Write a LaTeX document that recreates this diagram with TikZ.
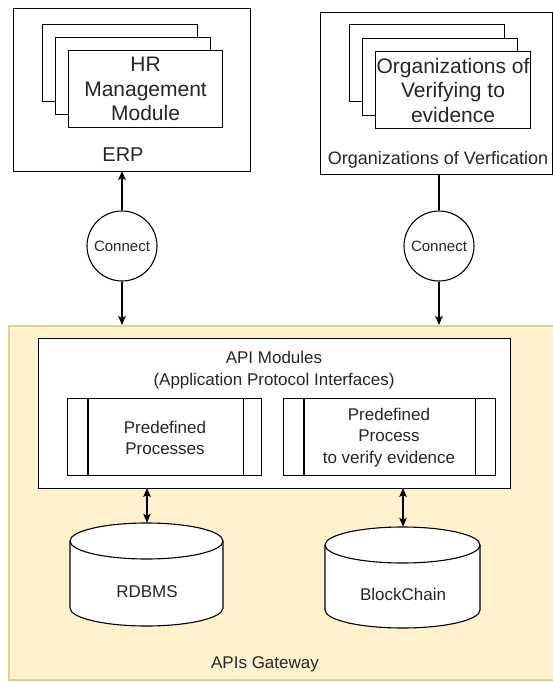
\documentclass[tikz,border=0pt]{standalone}
\usepackage{fontspec}
\setmainfont{Liberation Sans}
\usetikzlibrary{arrows.meta}
\definecolor{gwfill}{HTML}{FFF2CC}
\definecolor{gwdraw}{HTML}{E3CF96}
\tikzset{
  box/.style={draw=black, line width=1.1pt, fill=white, inner sep=0pt, anchor=north west},
  txt/.style={align=center, inner sep=0pt, text=black!85},
  big/.style={font=\fontsize{21}{24.5}\selectfont},
  mid/.style={font=\fontsize{17}{21.5}\selectfont},
  conn/.style={draw=black, line width=1.1pt},
  arr/.style={conn, -{Stealth[length=9pt,width=7.5pt,inset=2pt]}},
  darr/.style={conn, {Stealth[length=9pt,width=7.5pt,inset=2pt]}-{Stealth[length=9pt,width=7.5pt,inset=2pt]}},
  circ/.style={draw=black, line width=1.1pt, fill=white, circle, minimum size=70pt, inner sep=0pt, font=\fontsize{15}{18}\selectfont, text=black!85},
}
\begin{document}
\begin{tikzpicture}[x=1pt,y=1pt]
\useasboundingbox (0,0) rectangle (553,-682);
\fill[white] (0,0) rectangle (553,-682);

% Gateway
\node[box, draw=gwdraw, fill=gwfill, line width=1.5pt, minimum width=552pt, minimum height=354pt] (gw) at (8,-325) {};
\node[txt, mid] (gwt) at (265,-664) {APIs Gateway};

% ERP
\node[box, minimum width=237pt, minimum height=163pt] (erp) at (13,-8) {};
\node[box, minimum width=155pt, minimum height=77pt] (hr3) at (42,-24) {};
\node[box, minimum width=155pt, minimum height=77pt] (hr2) at (55,-37) {};
\node[box, minimum width=154pt, minimum height=77pt] (hr1) at (68,-50) {};
\node[txt, big] (hrt) at (hr1.center) {HR\\Management\\Module};
\node[txt, font=\fontsize{20}{23}\selectfont] (erpt) at (123,-155) {ERP};

% Verification
\node[box, minimum width=232pt, minimum height=162pt] (ver) at (320,-12) {};
\node[box, minimum width=155pt, minimum height=77pt] (ov3) at (349,-24) {};
\node[box, minimum width=155pt, minimum height=77pt] (ov2) at (362,-38) {};
\node[box, minimum width=155pt, minimum height=77pt] (ov1) at (375,-51) {};
\node[txt, big] (ovt) at (ov1.center) {Organizations of\\Verifying to\\evidence};
\node[txt, font=\fontsize{18}{21.5}\selectfont] (vert) at (438,-160) {Organizations of Verfication};

% Connect circles
\node[circ] (c1) at (122,-246) {Connect};
\node[circ] (c2) at (439,-246) {Connect};

\coordinate (erpb) at (122,-171);
\coordinate (verb) at (439,-174);
\coordinate (gw1) at (122,-325);
\coordinate (gw2) at (439,-325);
\draw[arr] (c1.north) -- (erpb);
\draw[arr] (c1.south) -- (gw1);
\draw[conn] (verb) -- (c2.north);
\draw[arr] (c2.south) -- (gw2);

% API modules
\node[box, minimum width=472pt, minimum height=150pt] (api) at (38,-338) {};
\node[txt, mid] (apit) at (274,-370) {API Modules\\(Application Protocol Interfaces)};

\node[box, minimum width=194pt, minimum height=77pt] (pp1) at (67,-398) {};
\draw[conn] ([xshift=21pt]pp1.north west) -- ([xshift=21pt]pp1.south west);
\draw[conn] ([xshift=-19pt]pp1.north east) -- ([xshift=-19pt]pp1.south east);
\node[txt, mid] (pp1t) at (165,-438) {Predefined\\Processes};

\node[box, minimum width=212pt, minimum height=77pt] (pp2) at (283,-398) {};
\draw[conn] ([xshift=21pt]pp2.north west) -- ([xshift=21pt]pp2.south west);
\draw[conn] ([xshift=-21pt]pp2.north east) -- ([xshift=-21pt]pp2.south east);
\node[txt, mid] (pp2t) at (389,-437.5) {Predefined\\Process\\to verify evidence};

% Cylinders
\path[draw=black, line width=1.1pt, fill=white]
  (70,-541) -- (70,-608) arc[start angle=180, end angle=360, x radius=76.5, y radius=18]
  -- (223,-541) arc[start angle=0, end angle=180, x radius=76.5, y radius=18] -- cycle;
\draw[line width=1.1pt] (70,-541) arc[start angle=180, end angle=360, x radius=76.5, y radius=18];
\node[minimum width=153pt, minimum height=103pt, inner sep=0pt] (rdb) at (146.5,-574.5) {};
\node[txt, mid] (rdbt) at (147,-592) {RDBMS};

\path[draw=black, line width=1.1pt, fill=white]
  (325,-545) -- (325,-610) arc[start angle=180, end angle=360, x radius=77.5, y radius=18]
  -- (480,-545) arc[start angle=0, end angle=180, x radius=77.5, y radius=18] -- cycle;
\draw[line width=1.1pt] (325,-545) arc[start angle=180, end angle=360, x radius=77.5, y radius=18];
\node[minimum width=155pt, minimum height=101pt, inner sep=0pt] (bc) at (402.5,-577.5) {};
\node[txt, mid] (bct) at (403,-594) {BlockChain};

\coordinate (apib1) at (147,-488);
\coordinate (apib2) at (403,-488);
\draw[darr] (apib1) -- (rdb.north -| apib1);
\draw[darr] (apib2) -- (bc.north -| apib2);
\end{tikzpicture}
\end{document}
